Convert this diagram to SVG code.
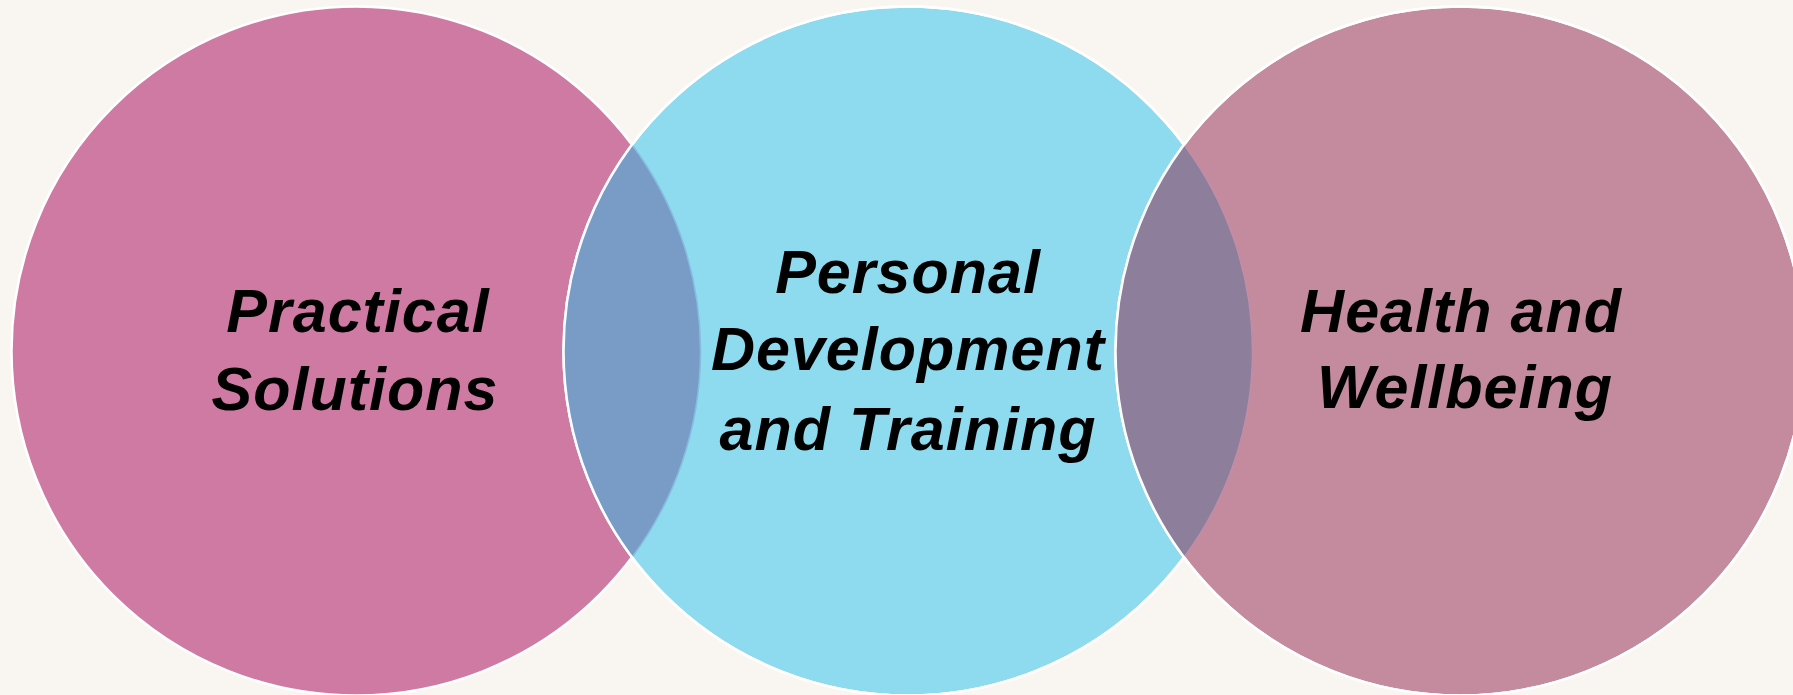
<svg xmlns="http://www.w3.org/2000/svg" width="1793" height="695" viewBox="0 0 1793 695">
<style>
.lbl{font-family:"Liberation Sans",Arial,sans-serif;font-weight:bold;font-style:italic;font-size:61px;fill:#000;text-anchor:middle;letter-spacing:1px}
.ring{fill:none;stroke:#fff;stroke-width:2.5}
</style>
<rect width="1793" height="695" fill="#F9F6F2"/>
<g id="node-practical">
<circle cx="356" cy="351" r="344.5" fill="#CF7AA3" stroke="#fff" stroke-width="2.5"/>
</g>
<g id="node-personal">
<circle cx="908" cy="351" r="344.5" fill="#8EDAEE" stroke="#fff" stroke-width="2.5"/>
</g>
<g id="overlap-left">
<path d="M632,144.8 A344.5,344.5 0 0 1 632,557.2 A344.5,344.5 0 0 1 632,144.8 Z" fill="#799CC7"/>
<path d="M632,144.8 A344.5,344.5 0 0 1 632,557.2" fill="none" stroke="#86BCE0" stroke-width="1.5"/>
<circle class="ring" cx="908" cy="351" r="344.5"/>
</g>
<g id="node-health">
<circle cx="1460" cy="351" r="344.5" fill="#C48B9F" stroke="#fff" stroke-width="2.5"/>
</g>
<g id="overlap-right">
<path d="M1184,144.8 A344.5,344.5 0 0 1 1184,557.2 A344.5,344.5 0 0 1 1184,144.8 Z" fill="#8D7E9C"/>
<path d="M1184,144.8 A344.5,344.5 0 0 1 1184,557.2" fill="none" stroke="#C08EA6" stroke-width="1.5"/>
<circle class="ring" cx="1460" cy="351" r="344.5"/>
</g>
<g id="labels">
<text class="lbl" x="358" y="332">Practical</text>
<text class="lbl" x="355" y="410">Solutions</text>
<text class="lbl" x="908" y="293">Personal</text>
<text class="lbl" x="908" y="370">Development</text>
<text class="lbl" x="908" y="450">and Training</text>
<text class="lbl" x="1461" y="332">Health and</text>
<text class="lbl" x="1465" y="408">Wellbeing</text>
</g>
<g id="connectors"></g>
</svg>
